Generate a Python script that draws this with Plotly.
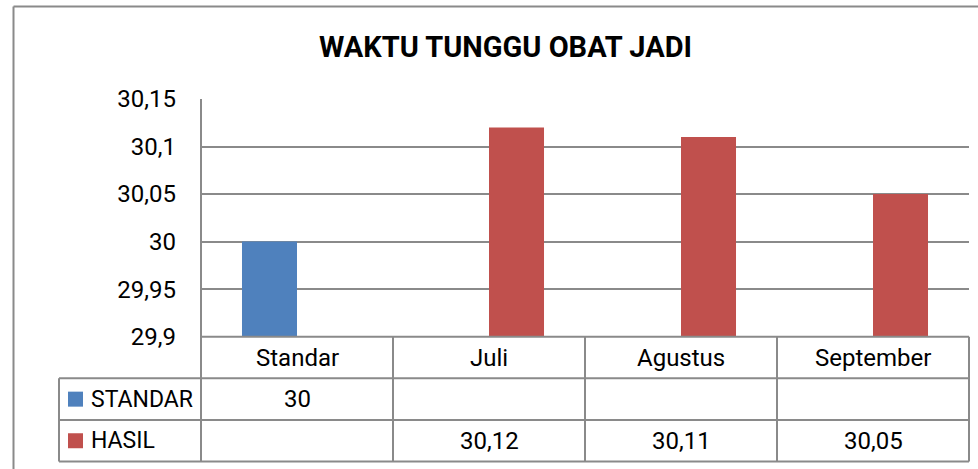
import plotly.graph_objects as go

# ---- data ----
categories = ["Standar", "Juli", "Agustus", "September"]
standar_values = [30, None, None, None]
hasil_values = [None, 30.12, 30.11, 30.05]
series_names = ["STANDAR", "HASIL"]
series_colors = ["#4F81BD", "#C0504D"]
title_text = "WAKTU TUNGGU OBAT JADI"
y_ticks = [29.9, 29.95, 30, 30.05, 30.1, 30.15]

W, H = 978, 469
FONT = "Roboto"
GRID = "#8a8a8a"
TXT = 24


def fx(px):
    return px / W


def fy(py):
    return 1 - py / H


def fmt(v):
    s = ("%.2f" % v).rstrip("0").rstrip(".")
    return s.replace(".", ",")


# layout pixel positions
PL, PR, PT, PB = 201, 969, 99, 336.7
ROW1, ROW2, ROW3 = 378.3, 420, 461.5
LEG_L = 59

fig = go.Figure()
for name, vals, col in zip(series_names, [standar_values, hasil_values], series_colors):
    fig.add_trace(go.Bar(x=categories, y=vals, name=name, marker_color=col,
                         marker_line_width=0, showlegend=False))

shapes = []


def line(x0, y0, x1, y1, w=2):
    shapes.append(dict(type="line", xref="paper", yref="paper",
                       x0=fx(x0), y0=fy(y0), x1=fx(x1), y1=fy(y1),
                       line=dict(color=GRID, width=w)))


# outer chart border
line(13.5, 6.5, 13.5, H + 2)
line(13.5, 6.5, W + 2, 6.5)

# data table grid
line(PL, PB, PR, PB)
for yy in (ROW1, ROW2, ROW3):
    line(LEG_L, yy, PR, yy)
line(LEG_L, ROW1, LEG_L, ROW3)
line(PL, PT, PL, ROW3)
ncat = len(categories)
cw = (PR - PL) / ncat
for i in range(1, ncat + 1):
    xx = PL + i * cw
    line(xx, PB, xx, ROW3)

annotations = []
# title
annotations.append(dict(text="<b>%s</b>" % title_text, xref="paper", yref="paper",
                        x=fx(505), y=fy(47), xanchor="center", yanchor="middle",
                        showarrow=False, font=dict(family=FONT, size=29, color="black")))

# category header row
for c in categories:
    annotations.append(dict(text=c, xref="x", yref="paper", x=c, y=fy((PB + ROW1) / 2),
                            xanchor="center", yanchor="middle", showarrow=False,
                            font=dict(family=FONT, size=TXT, color="black")))

# series rows
row_centers = [(ROW1 + ROW2) / 2, (ROW2 + ROW3) / 2]
for name, vals, col, rc in zip(series_names, [standar_values, hasil_values], series_colors, row_centers):
    shapes.append(dict(type="rect", xref="paper", yref="paper",
                       x0=fx(68), x1=fx(83), y0=fy(rc - 7.5), y1=fy(rc + 7.5),
                       fillcolor=col, line=dict(width=0)))
    annotations.append(dict(text=name, xref="paper", yref="paper", x=fx(89), y=fy(rc),
                            xanchor="left", yanchor="middle", showarrow=False,
                            font=dict(family=FONT, size=23, color="black")))
    for c, v in zip(categories, vals):
        if v is not None:
            annotations.append(dict(text=fmt(v), xref="x", yref="paper", x=c, y=fy(rc),
                                    xanchor="center", yanchor="middle", showarrow=False,
                                    font=dict(family=FONT, size=TXT, color="black")))

fig.update_layout(
    width=W, height=H,
    margin=dict(l=0, r=0, t=0, b=0, autoexpand=False),
    paper_bgcolor="white", plot_bgcolor="white",
    barmode="group", bargap=0.427, bargroupgap=0,
    shapes=shapes, annotations=annotations,
    xaxis=dict(domain=[fx(PL), fx(PR)], showticklabels=False, showline=False,
               showgrid=False, zeroline=False, fixedrange=True, automargin=False),
    yaxis=dict(domain=[fy(PB), fy(PT)], range=[y_ticks[0], y_ticks[-1]],
               tickvals=y_ticks, ticktext=[fmt(v) for v in y_ticks],
               showgrid=True, gridcolor=GRID, gridwidth=2, zeroline=False,
               showline=False, ticks="", ticklabelstandoff=24, automargin=False,
               tickfont=dict(family=FONT, size=TXT, color="black"), fixedrange=True),
)

fig.write_html("out.html", config={"displayModeBar": False},
               post_script="document.body.style.margin='0';document.body.style.overflow='hidden';")
